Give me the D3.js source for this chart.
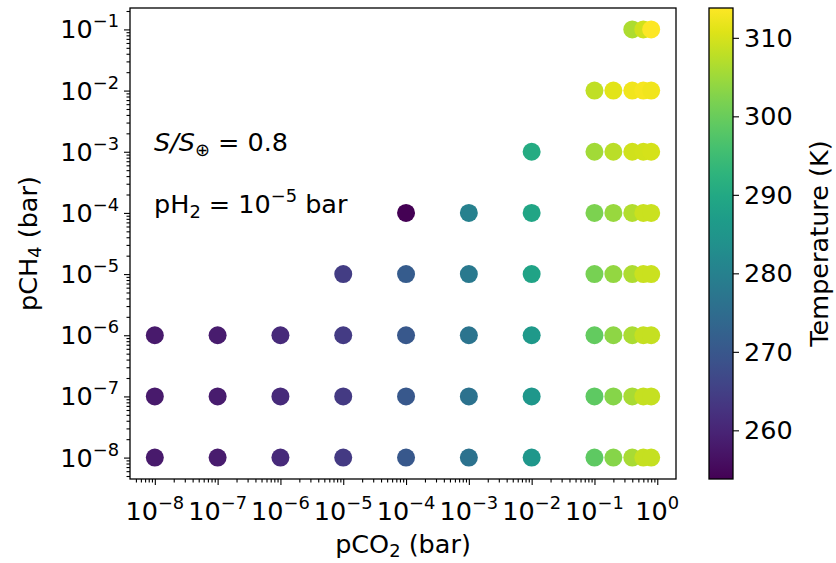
<!DOCTYPE html>
<html>
<head>
<meta charset="utf-8">
<script src="https://cdn.jsdelivr.net/npm/d3@7"></script>
<style>
  html, body { margin: 0; padding: 0; background: #fff; }
  svg { display: block; }
  text { font-family: "DejaVu Sans", sans-serif; fill: #000; }
</style>
</head>
<body>
<svg id="chart" width="836" height="563"></svg>
<script>
// ---------------- data ----------------
const pCO2 = [1e-8, 1e-7, 1e-6, 1e-5, 1e-4, 1e-3, 1e-2, 0.1, 0.2, 0.4, 0.6, 0.8];
const pCH4 = [1e-8, 1e-7, 1e-6, 1e-5, 1e-4, 1e-3, 1e-2, 1e-1];
// surface temperature (K); rows follow pCH4, columns follow pCO2 (null = no model)
const temperature = [
  [258.0, 258.3, 261.0, 264.0, 270.0, 276.5, 285.5, 298.8, 303.0, 306.0, 308.5, 308.5], // 1e-8
  [258.0, 258.3, 261.0, 264.0, 270.0, 276.5, 285.5, 299.0, 303.0, 306.0, 308.5, 308.5], // 1e-7
  [258.0, 258.3, 261.0, 264.2, 270.2, 276.8, 286.0, 299.5, 303.5, 306.2, 308.6, 308.6], // 1e-6
  [null,  null,  null,  264.5, 271.0, 278.0, 288.5, 301.5, 304.0, 306.5, 309.0, 309.0], // 1e-5
  [null,  null,  null,  null,  253.8, 280.0, 289.0, 302.0, 304.5, 307.0, 309.0, 309.0], // 1e-4
  [null,  null,  null,  null,  null,  null,  290.5, 305.5, 307.5, 309.5, 309.8, 310.0], // 1e-3
  [null,  null,  null,  null,  null,  null,  null,  308.0, 311.0, 312.5, 313.0, 312.5], // 1e-2
  [null,  null,  null,  null,  null,  null,  null,  null,  null,  306.5, 309.5, 313.8]  // 1e-1
];
const xTickExp = [-8, -7, -6, -5, -4, -3, -2, -1, 0];
const yTickExp = [-8, -7, -6, -5, -4, -3, -2, -1];
const cbarTicks = [260, 270, 280, 290, 300, 310];
const xLabel = ["pCO", "2", " (bar)"];
const yLabel = ["pCH", "4", " (bar)"];
const cbarLabel = "Temperature (K)";

// ---------------- layout ----------------
const svg = d3.select("#chart");
const L = 130, R = 676, T = 8, B = 479;
const FS = 25.5;
const SS = FS * 0.7;

const points = [];
pCO2.forEach((c, j) => {
  pCH4.forEach((m, i) => {
    const t = temperature[i][j];
    if (t !== null) points.push({ co2: c, ch4: m, T: t });
  });
});
const tMin = d3.min(points, d => d.T), tMax = d3.max(points, d => d.T);

const lx = d3.extent(pCO2.map(Math.log10)), ly = d3.extent(pCH4.map(Math.log10));
const mx = (lx[1] - lx[0]) * 0.05, my = (ly[1] - ly[0]) * 0.05;
const x = d3.scaleLog().domain([10 ** (lx[0] - mx), 10 ** (lx[1] + mx)]).range([L, R]);
const y = d3.scaleLog().domain([10 ** (ly[0] - my), 10 ** (ly[1] + my)]).range([B, T]);
const color = d3.scaleSequential(d3.interpolateViridis).domain([tMin, tMax]);

function minorTicks(scale) {
  const [a, b] = scale.domain();
  const out = [];
  for (let e = Math.floor(Math.log10(a)); e <= Math.ceil(Math.log10(b)); e++) {
    for (let k = 2; k <= 9; k++) {
      const v = k * 10 ** e;
      if (v >= a && v <= b) out.push(v);
    }
  }
  return out;
}

const axesG = svg.append("g");
axesG.append("g").selectAll("circle").data(points).join("circle")
  .attr("cx", d => x(d.co2)).attr("cy", d => y(d.ch4)).attr("r", 9)
  .attr("fill", d => color(d.T));

function styleAxis(g) {
  g.select(".domain").remove();
  g.selectAll(".tick line").attr("stroke", "#000").attr("stroke-width", 1.1);
}
const xMajor = xTickExp.map(e => 10 ** e);
const yMajor = yTickExp.map(e => 10 ** e);
axesG.append("g").attr("transform", `translate(0,${B})`)
  .call(d3.axisBottom(x).tickValues(xMajor).tickFormat("").tickSize(6)).call(styleAxis);
axesG.append("g").attr("transform", `translate(0,${B})`)
  .call(d3.axisBottom(x).tickValues(minorTicks(x)).tickFormat("").tickSize(3.5)).call(styleAxis);
axesG.append("g").attr("transform", `translate(${L},0)`)
  .call(d3.axisLeft(y).tickValues(yMajor).tickFormat("").tickSize(6)).call(styleAxis);
axesG.append("g").attr("transform", `translate(${L},0)`)
  .call(d3.axisLeft(y).tickValues(minorTicks(y)).tickFormat("").tickSize(3.5)).call(styleAxis);

axesG.append("rect").attr("x", L).attr("y", T).attr("width", R - L).attr("height", B - T)
  .attr("fill", "none").attr("stroke", "#000").attr("stroke-width", 1.3);

function powerLabel(g, e, anchor) {
  const t = g.append("text").attr("font-size", FS).attr("text-anchor", anchor);
  t.append("tspan").text("10");
  t.append("tspan").attr("dy", -11).attr("font-size", SS)
    .text(e < 0 ? "\u2212" + Math.abs(e) : String(e));
  return t;
}
xTickExp.forEach(e => {
  const g = svg.append("g").attr("transform", `translate(${x(10 ** e)},${B + 41})`);
  powerLabel(g, e, "middle");
});
yTickExp.forEach(e => {
  const g = svg.append("g").attr("transform", `translate(${L - 11},${y(10 ** e) + 9})`);
  powerLabel(g, e, "end");
});

const xl = svg.append("text").attr("x", (L + R) / 2).attr("y", 553)
  .attr("text-anchor", "middle").attr("font-size", FS);
xl.append("tspan").text(xLabel[0]);
xl.append("tspan").attr("dy", 4).attr("font-size", SS).text(xLabel[1]);
xl.append("tspan").attr("dy", -4).text(xLabel[2]);

const yl = svg.append("text").attr("transform", `translate(37,${(T + B) / 2}) rotate(-90)`)
  .attr("text-anchor", "middle").attr("font-size", FS);
yl.append("tspan").text(yLabel[0]);
yl.append("tspan").attr("dy", 4).attr("font-size", SS).text(yLabel[1]);
yl.append("tspan").attr("dy", -4).text(yLabel[2]);

const a1 = svg.append("text").attr("x", 154).attr("y", 151).attr("font-size", FS);
a1.append("tspan").attr("font-style", "italic").text("S");
a1.append("tspan").attr("font-style", "italic").text("/");
a1.append("tspan").attr("font-style", "italic").text("S");
a1.append("tspan").attr("dy", 5).attr("font-size", SS).text("\u2295");
a1.append("tspan").attr("dy", -5).text(" = 0.8");

const a2 = svg.append("text").attr("x", 154).attr("y", 213).attr("font-size", FS);
a2.append("tspan").text("pH");
a2.append("tspan").attr("dy", 5).attr("font-size", SS).text("2");
a2.append("tspan").attr("dy", -5).text(" = 10");
a2.append("tspan").attr("dy", -11).attr("font-size", SS).text("\u22125");
a2.append("tspan").attr("dy", 11).text(" bar");

// ---------------- colorbar ----------------
const CL = 709, CR = 733;
const cy = d3.scaleLinear().domain([tMin, tMax]).range([B, T]);
const defs = svg.append("defs");
const grad = defs.append("linearGradient").attr("id", "vir")
  .attr("x1", 0).attr("y1", 1).attr("x2", 0).attr("y2", 0);
d3.range(0, 1.0001, 0.05).forEach(s => {
  grad.append("stop").attr("offset", s).attr("stop-color", d3.interpolateViridis(s));
});
svg.append("rect").attr("x", CL).attr("y", T).attr("width", CR - CL).attr("height", B - T)
  .attr("fill", "url(#vir)");
const cg = svg.append("g").attr("transform", `translate(${CR},0)`)
  .call(d3.axisRight(cy).tickValues(cbarTicks).tickSize(6).tickPadding(5));
cg.select(".domain").remove();
cg.selectAll(".tick line").attr("stroke", "#000").attr("stroke-width", 1.1);
cg.selectAll(".tick text").attr("font-size", FS).attr("font-family", "DejaVu Sans").attr("fill", "#000");
svg.append("rect").attr("x", CL).attr("y", T).attr("width", CR - CL).attr("height", B - T)
  .attr("fill", "none").attr("stroke", "#000").attr("stroke-width", 1.3);
svg.append("text").attr("transform", `translate(828,${(T + B) / 2}) rotate(-90)`)
  .attr("text-anchor", "middle").attr("font-size", FS).text(cbarLabel);
</script>
</body>
</html>
